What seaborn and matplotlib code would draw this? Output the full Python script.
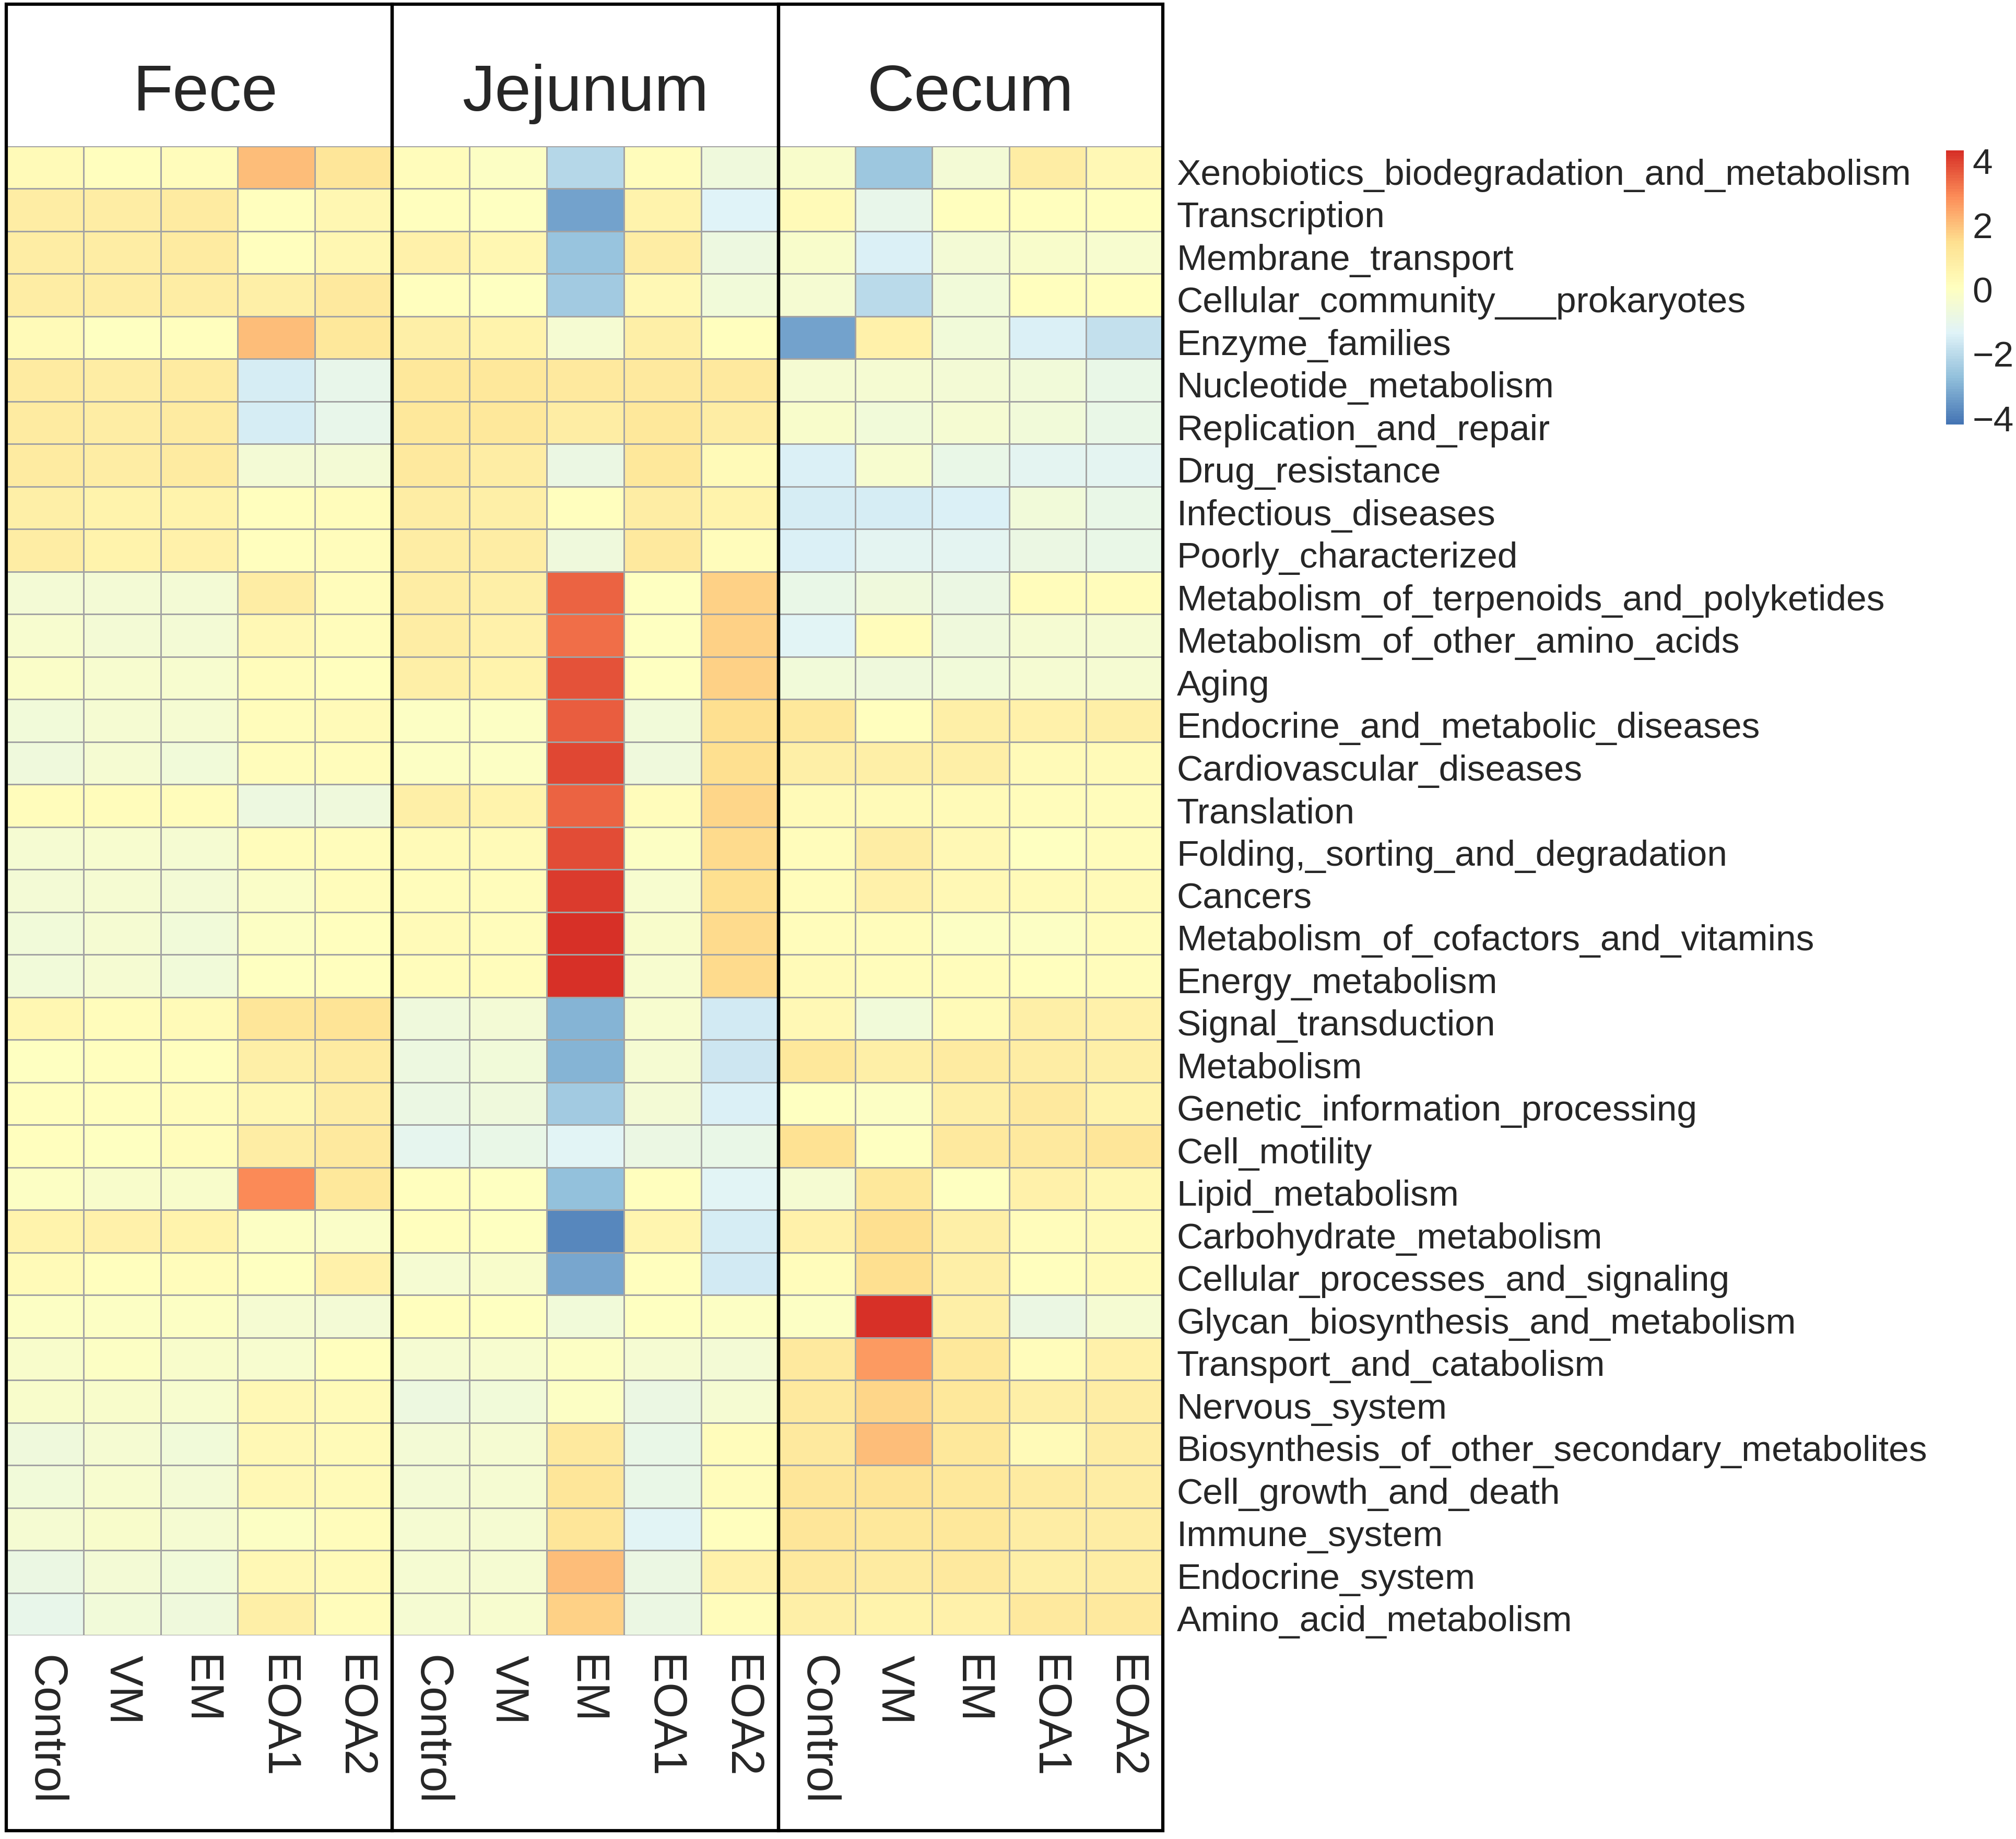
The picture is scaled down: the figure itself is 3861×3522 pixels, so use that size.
import numpy as np
import pandas as pd
import matplotlib
matplotlib.use("Agg")
import matplotlib.pyplot as plt
import matplotlib.transforms as mtransforms
import seaborn as sns
from matplotlib.colors import LinearSegmentedColormap
from matplotlib.patches import Rectangle

tissues = ["Fece", "Jejunum", "Cecum"]
groups = ["Control", "VM", "EM", "EOA1", "EOA2"]
pathways = [
    "Xenobiotics_biodegradation_and_metabolism", "Transcription", "Membrane_transport",
    "Cellular_community___prokaryotes", "Enzyme_families", "Nucleotide_metabolism",
    "Replication_and_repair", "Drug_resistance", "Infectious_diseases", "Poorly_characterized",
    "Metabolism_of_terpenoids_and_polyketides", "Metabolism_of_other_amino_acids", "Aging",
    "Endocrine_and_metabolic_diseases", "Cardiovascular_diseases", "Translation",
    "Folding,_sorting_and_degradation", "Cancers", "Metabolism_of_cofactors_and_vitamins",
    "Energy_metabolism", "Signal_transduction", "Metabolism", "Genetic_information_processing",
    "Cell_motility", "Lipid_metabolism", "Carbohydrate_metabolism",
    "Cellular_processes_and_signaling", "Glycan_biosynthesis_and_metabolism",
    "Transport_and_catabolism", "Nervous_system", "Biosynthesis_of_other_secondary_metabolites",
    "Cell_growth_and_death", "Immune_system", "Endocrine_system", "Amino_acid_metabolism",
]

fece = [
    [0.3, 0.1, 0.2, 2.1, 1.2], [0.9, 0.85, 0.95, 0.1, 0.45], [0.9, 0.85, 0.95, 0.1, 0.45],
    [0.9, 0.85, 0.9, 0.75, 1.0], [0.25, 0.05, 0.1, 2.1, 1.1], [0.95, 0.9, 0.95, -1.5, -1.0],
    [0.95, 0.9, 0.95, -1.5, -1.0], [0.95, 0.9, 0.95, -0.5, -0.5], [0.8, 0.6, 0.65, 0.1, 0.2],
    [0.85, 0.65, 0.7, 0.1, 0.2], [-0.5, -0.5, -0.5, 0.9, 0.15], [-0.3, -0.5, -0.5, 0.35, 0.15],
    [-0.15, -0.3, -0.3, 0.15, 0.1], [-0.6, -0.4, -0.4, 0.15, 0.25], [-0.7, -0.45, -0.55, 0.15, 0.2],
    [0.15, 0.2, 0.15, -0.75, -0.65], [-0.4, -0.3, -0.4, 0.15, 0.2], [-0.5, -0.45, -0.5, -0.15, 0.15],
    [-0.55, -0.45, -0.55, -0.05, 0.1], [-0.55, -0.45, -0.55, 0.05, 0.1], [0.45, 0.2, 0.3, 1.25, 1.3],
    [0.05, 0.1, 0.1, 0.8, 0.95], [0.1, 0.1, 0.2, 0.45, 0.85], [0.1, 0.05, 0.15, 0.9, 1.05],
    [-0.1, -0.25, -0.25, 2.9, 1.1], [0.65, 0.7, 0.6, -0.05, -0.15], [0.25, 0.1, 0.15, 0.05, 0.7],
    [-0.05, -0.1, -0.1, -0.45, -0.5], [-0.25, -0.1, -0.25, -0.3, 0.1], [-0.25, -0.2, -0.35, 0.4, 0.3],
    [-0.65, -0.45, -0.55, 0.4, 0.25], [-0.55, -0.35, -0.5, 0.4, 0.3], [-0.4, -0.2, -0.4, -0.05, 0.2],
    [-0.85, -0.5, -0.55, 0.35, 0.25], [-1.0, -0.55, -0.7, 0.8, 0.2],
]

jejunum = [
    [0.15, -0.1, -2.1, 0.2, -0.7], [0.1, 0.0, -3.3, 0.6, -1.35], [0.7, 0.45, -2.65, 0.85, -0.75],
    [0.1, 0.0, -2.45, 0.4, -0.55], [0.8, 0.6, -0.45, 0.8, 0.1], [1.1, 1.1, 1.05, 1.05, 1.0],
    [1.1, 1.15, 0.85, 1.15, 0.9], [1.0, 0.9, -0.85, 1.1, 0.3], [0.9, 0.8, 0.1, 0.9, 0.6],
    [0.9, 0.85, -0.65, 1.0, 0.2], [0.85, 0.75, 3.55, 0.05, 1.75], [0.85, 0.7, 3.3, 0.05, 1.7],
    [0.75, 0.6, 3.8, 0.05, 1.75], [-0.1, -0.1, 3.6, -0.55, 1.45], [-0.1, -0.1, 3.9, -0.7, 1.45],
    [0.75, 0.6, 3.5, 0.15, 1.65], [0.25, 0.25, 3.85, -0.1, 1.55], [0.15, 0.15, 4.1, -0.3, 1.5],
    [0.3, 0.2, 4.3, -0.2, 1.55], [0.2, 0.15, 4.25, -0.3, 1.55], [-0.7, -0.5, -3.0, -0.3, -1.6],
    [-0.75, -0.55, -3.0, -0.45, -1.7], [-0.85, -0.65, -2.45, -0.5, -1.4], [-1.05, -0.95, -1.3, -0.85, -0.9],
    [0.1, 0.05, -2.7, 0.1, -1.25], [0.1, 0.0, -3.8, 0.5, -1.55], [-0.4, -0.2, -3.25, 0.1, -1.6],
    [0.1, 0.0, -0.55, 0.0, -0.1], [-0.45, -0.35, -0.05, -0.45, -0.5], [-0.75, -0.55, -0.1, -0.85, -0.45],
    [-0.5, -0.45, 1.05, -0.9, 0.15], [-0.5, -0.45, 1.2, -0.9, 0.15], [-0.45, -0.4, 1.2, -1.25, 0.1],
    [-0.45, -0.45, 2.1, -0.85, 0.7], [-0.45, -0.35, 1.75, -0.85, 0.2],
]

cecum = [
    [-0.25, -2.5, -0.5, 0.85, 0.4], [0.25, -1.0, 0.1, 0.1, 0.1], [-0.25, -1.45, -0.5, -0.25, -0.3],
    [-0.4, -2.0, -0.55, 0.1, 0.1], [-3.3, 0.7, -0.55, -1.4, -1.85], [-0.45, -0.45, -0.5, -0.55, -0.9],
    [-0.25, -0.55, -0.45, -0.55, -0.9], [-1.45, -0.35, -0.9, -1.15, -1.15], [-1.5, -1.5, -1.4, -0.6, -0.9],
    [-1.4, -1.2, -1.2, -0.8, -0.95], [-0.95, -0.7, -0.85, 0.2, 0.15], [-1.3, 0.15, -0.7, -0.45, -0.4],
    [-0.55, -0.65, -0.55, -0.4, -0.4], [1.1, 0.1, 0.8, 0.7, 0.8], [0.75, 0.8, 0.75, 0.25, 0.25],
    [0.25, 0.3, 0.3, 0.2, 0.2], [0.2, 0.9, 0.35, 0.0, 0.2], [0.15, 0.7, 0.4, 0.3, 0.3],
    [0.2, 0.15, -0.05, -0.1, 0.2], [0.25, 0.2, 0.15, 0.1, 0.2], [0.35, -0.55, 0.25, 0.75, 0.7],
    [1.15, 0.75, 0.95, 0.9, 0.8], [0.05, -0.05, 0.75, 1.05, 0.6], [1.4, 0.0, 1.0, 1.05, 1.2],
    [-0.45, 1.1, 0.05, 0.7, 0.45], [0.7, 1.45, 0.8, 0.15, 0.25], [0.2, 1.45, 0.8, 0.1, 0.3],
    [-0.1, 4.3, 0.8, -0.85, -0.4], [1.0, 2.7, 1.1, 0.2, 0.7], [1.05, 1.6, 1.1, 0.75, 0.85],
    [1.05, 2.05, 1.1, 0.25, 0.85], [1.2, 1.3, 1.15, 0.95, 0.9], [1.25, 1.1, 1.1, 0.9, 0.9],
    [1.05, 0.95, 1.05, 0.75, 0.9], [0.8, 0.6, 0.7, 1.05, 1.05],
]

cbar_ticks = [-4, -2, 0, 2, 4]

sns.set_style("white")
plt.rcParams["font.family"] = ["Liberation Sans", "DejaVu Sans"]

W, H = 3862, 3522
fig = plt.figure(figsize=(W / 100, H / 100), dpi=100)
fig.patch.set_facecolor("white")


def fx(p):
    return p / W


def fy(p):
    return 1 - p / H


cmap = LinearSegmentedColormap.from_list(
    "pheat", ["#4575B4", "#91BFDB", "#E0F3F8", "#FFFFBF", "#FEE090", "#FC8D59", "#D73027"], N=100)

xedges = [12, 751, 1491, 2227]
ytop, ybot = 280, 3132
box_top, box_bot = 8, 3506

cax = fig.add_axes([fx(3727), fy(813), fx(3761 - 3727), (813 - 288) / H])

datasets = [fece, jejunum, cecum]
for i, (name, data) in enumerate(zip(tissues, datasets)):
    x0, x1 = xedges[i], xedges[i + 1]
    ax = fig.add_axes([fx(x0), fy(ybot), fx(x1 - x0), (ybot - ytop) / H])
    df = pd.DataFrame(data, index=pathways, columns=groups)
    last = i == 2
    sns.heatmap(df, ax=ax, cmap=cmap, vmin=-4.2, vmax=4.32,
                linewidths=1.8, linecolor="#A3A3A3",
                cbar=last, cbar_ax=cax if last else None,
                xticklabels=groups, yticklabels=pathways if last else False)
    ax.set_xticklabels(groups, rotation=-90, fontsize=64, va="top", ha="center")
    ax.tick_params(axis="x", length=0, pad=27)
    if last:
        ax.yaxis.tick_right()
        ax.set_yticklabels(pathways, rotation=0, fontsize=50, ha="left", va="center")
        ax.tick_params(axis="y", length=0, pad=19)
        off = mtransforms.ScaledTranslation(0, -0.15, fig.dpi_scale_trans)
        for lab in ax.get_yticklabels():
            lab.set_transform(lab.get_transform() + off)
        cbar = ax.collections[0].colorbar
    ax.set_xlabel("")
    ax.set_ylabel("")
    fig.add_artist(Rectangle((fx(x0), fy(box_bot)), fx(x1 - x0), (box_bot - box_top) / H,
                             transform=fig.transFigure, fill=False, ec="black", lw=4.5, zorder=10))
    fig.text(fx((x0 + x1) / 2) + (fx(12) if i == 0 else 0), fy(180), name,
             ha="center", va="center", fontsize=90)

cbar.outline.set_visible(False)
cbar.set_ticks(cbar_ticks)
cbar.ax.tick_params(length=0, labelsize=50, pad=12)

fig.savefig("out.png", dpi=100, facecolor="white")
